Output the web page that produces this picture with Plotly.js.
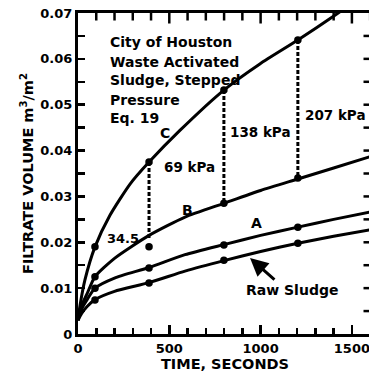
<!DOCTYPE html>
<html>
<head>
<meta charset="utf-8">
<script src="https://cdn.plot.ly/plotly-3.0.1.min.js"></script>
<style>
html,body{margin:0;padding:0;background:#fff;overflow:hidden;width:369px;height:379px;}
#chart{width:372px;height:379px;}
</style>
</head>
<body>
<div id="chart"></div>
<script>
// ---- data ----
const timeC = [0, 11, 38, 93, 175, 285, 389, 558, 799, 996, 1204, 1407, 1460];
const volC  = [0.003, 0.0062, 0.0118, 0.0190, 0.0259, 0.0327, 0.0375, 0.0444, 0.0532, 0.0589, 0.0641, 0.0695, 0.0710];

const timeABR = [0, 20, 50, 93, 200, 389, 586, 799, 1000, 1204, 1400, 1610];
const volB    = [0.003, 0.0062, 0.0088, 0.0125, 0.0165, 0.0215, 0.0255, 0.0285, 0.0313, 0.0338, 0.0362, 0.0388];
const volA    = [0.003, 0.0055, 0.0075, 0.0100, 0.0122, 0.0145, 0.0173, 0.0195, 0.0215, 0.0233, 0.0250, 0.0267];
const volRaw  = [0.003, 0.0045, 0.0060, 0.0075, 0.0093, 0.0112, 0.0137, 0.0160, 0.0180, 0.0198, 0.0213, 0.0228];

const dotTimes = [93, 389, 799, 1204];
const dotC   = [0.0190, 0.0375, 0.0532, 0.0641];
const dotB   = [0.0125, 0.0190, 0.0285, 0.0340];
const dotA   = [0.0100, 0.0144, 0.0194, 0.0233];
const dotRaw = [0.0074, 0.0111, 0.0161, 0.0198];

const stepTimes = [389, 799, 1204];
const stepHigh  = [0.0375, 0.0532, 0.0641];
const stepLow   = [0.0205, 0.0285, 0.0340];

const xRange = [0, 1610];
const yRange = [0, 0.07];
const xMajorStep = 500, xMinorStep = 100;
const yMajorStep = 0.01, yMinorStep = 0.005;

// ---- layout geometry ----
const W = 372, H = 379, M = {l: 78, r: 0, t: 13, b: 45};
const plotW = W - M.l - M.r, plotH = H - M.t - M.b;
const minorLen = 6, majorLen = 9, yLen = 7;

// ---- traces ----
const F = 'DejaVu Sans, sans-serif';
const lineStyle = {color: '#000', width: 3, shape: 'spline', smoothing: 0.6};
const traces = [];
[[timeC, volC], [timeABR, volB], [timeABR, volA], [timeABR, volRaw]].forEach(([x, y]) => {
  traces.push({x: x, y: y, mode: 'lines', line: lineStyle, hoverinfo: 'skip', showlegend: false});
});
stepTimes.forEach((t, i) => {
  traces.push({x: [t, t], y: [stepHigh[i], stepLow[i]], mode: 'lines',
    line: {color: '#000', width: 3, dash: '4px,2px'}, showlegend: false, hoverinfo: 'skip'});
});
[dotC, dotB, dotA, dotRaw].forEach(v => {
  traces.push({x: dotTimes, y: v, mode: 'markers', marker: {color: '#000', size: 7.5}, showlegend: false, hoverinfo: 'skip'});
});

// mirrored tick marks along the top and right frame edges, as layout shapes
const shapes = [];
for (let t = xMinorStep; t < xRange[1]; t += xMinorStep) {
  const len = (Math.round(t) % xMajorStep === 0) ? majorLen : minorLen;
  shapes.push({type: 'line', xref: 'x', yref: 'paper', x0: t, x1: t, y0: 1, y1: 1 - (1.5 + len) / plotH,
    line: {color: '#000', width: 2.5}, layer: 'above'});
}
for (let k = 1; k * yMinorStep < yRange[1] - 1e-9; k++) {
  const v = +(k * yMinorStep).toFixed(4);
  shapes.push({type: 'line', xref: 'paper', yref: 'y', x0: 1, x1: 1 - (1.5 + yLen) / plotW, y0: v, y1: v,
    line: {color: '#000', width: 2.5}, layer: 'above'});
}

const bold = (size) => ({family: F, size: size, color: '#000', weight: 'bold'});
const ann = (text, x, y, opts) => Object.assign({text: text, x: x, y: y, xref: 'x', yref: 'y', showarrow: false,
  font: bold(14)}, opts || {});

const annotations = [
  ann('City of Houston', 164, 0.06368, {xanchor: 'left'}),
  ann('Waste Activated', 164, 0.05931, {xanchor: 'left'}),
  ann('Sludge, Stepped', 164, 0.05539, {xanchor: 'left'}),
  ann('Pressure', 164, 0.05103, {xanchor: 'left'}),
  ann('Eq. 19', 164, 0.04710, {xanchor: 'left'}),
  ann('C', 476, 0.04383),
  ann('69 kPa', 460, 0.03642, {xanchor: 'left', font: bold(13.5)}),
  ann('138 kPa', 821, 0.04405, {xanchor: 'left', font: bold(13.5)}),
  ann('207 kPa', 1232, 0.04776, {xanchor: 'left', font: bold(13.5)}),
  ann('34.5', 246, 0.02093, {font: bold(13)}),
  ann('B', 597, 0.02704),
  ann('A', 980, 0.0242),
  ann('Raw Sludge', 1172, 0.0096),
  {text: '', x: 942, y: 0.01657, ax: 1084, ay: 0.01156, xref: 'x', yref: 'y', axref: 'x', ayref: 'y',
   showarrow: true, arrowhead: 2, arrowsize: 1.2, arrowwidth: 3, arrowcolor: '#000'}
];

const layout = {
  width: W, height: H,
  margin: M,
  paper_bgcolor: '#fff', plot_bgcolor: '#fff',
  showlegend: false,
  font: {family: F, color: '#000'},
  xaxis: {
    range: xRange, tick0: 0, dtick: xMajorStep,
    ticks: 'inside', ticklen: majorLen, tickwidth: 2.5, tickcolor: '#000',
    minor: {dtick: xMinorStep, ticks: 'inside', ticklen: minorLen, tickwidth: 2.5, tickcolor: '#000', showgrid: false},
    showline: true, linewidth: 3, linecolor: '#000', mirror: true,
    showgrid: false, zeroline: false,
    tickfont: bold(13),
    title: {text: 'TIME, SECONDS', font: bold(14.5), standoff: 3}
  },
  yaxis: {
    range: yRange, tick0: 0, dtick: yMajorStep,
    ticks: 'inside', ticklen: yLen, tickwidth: 2.5, tickcolor: '#000',
    minor: {dtick: yMinorStep, ticks: 'inside', ticklen: yLen, tickwidth: 2.5, tickcolor: '#000', showgrid: false},
    showline: true, linewidth: 3, linecolor: '#000', mirror: true,
    showgrid: false, zeroline: false,
    tickfont: bold(13),
    title: {text: 'FILTRATE VOLUME m<sup>3</sup>/m<sup>2</sup>', font: bold(14.5), standoff: 4}
  },
  shapes: shapes,
  annotations: annotations
};

Plotly.newPlot('chart', traces, layout, {staticPlot: true, displayModeBar: false});
</script>
</body>
</html>
